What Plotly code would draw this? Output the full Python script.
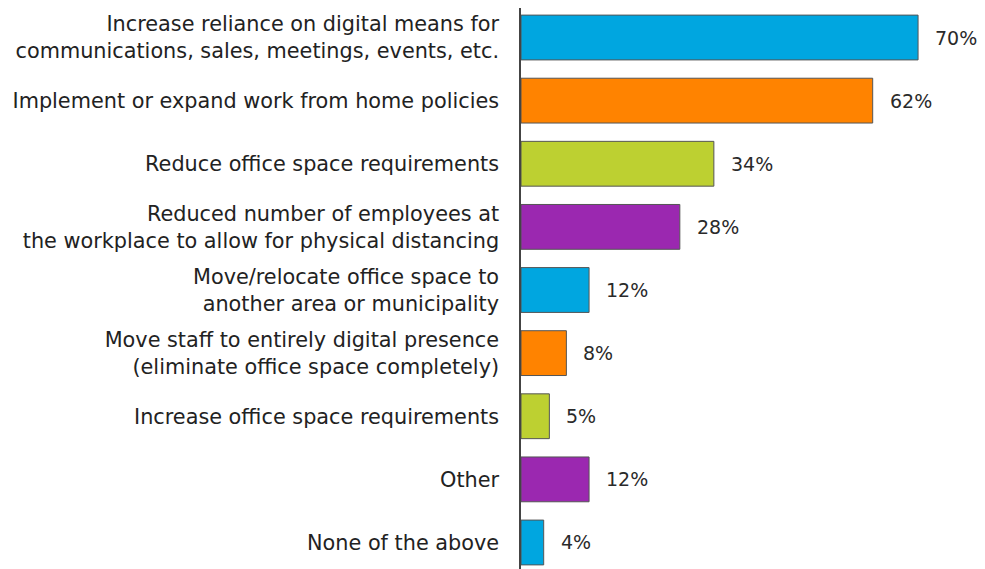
import plotly.graph_objects as go

categories = [
    "Increase reliance on digital means for<br>communications, sales, meetings, events, etc.",
    "Implement or expand work from home policies",
    "Reduce office space requirements",
    "Reduced number of employees at<br>the workplace to allow for physical distancing",
    "Move/relocate office space to<br>another area or municipality",
    "Move staff to entirely digital presence<br>(eliminate office space completely)",
    "Increase office space requirements",
    "Other",
    "None of the above",
]
values = [70, 62, 34, 28, 12, 8, 5, 12, 4]
value_labels = ["70%", "62%", "34%", "28%", "12%", "8%", "5%", "12%", "4%"]
palette = ["#00A6E0", "#FF8300", "#BDD031", "#9B28B0"]
bar_colors = [palette[i % 4] for i in range(len(categories))]

FONT = "DejaVu Sans"

fig = go.Figure()
fig.add_trace(go.Bar(
    x=values,
    y=categories,
    orientation="h",
    marker=dict(color=bar_colors, line=dict(color="#555555", width=1)),
    hoverinfo="skip",
))

for cat, v, lab in zip(categories, values, value_labels):
    fig.add_annotation(
        x=v, y=cat, text=lab, showarrow=False,
        xanchor="left", xshift=15,
        font=dict(family=FONT, size=19, color="#2a2a2a"),
    )

fig.update_layout(
    width=977, height=561,
    margin=dict(l=513, r=0, t=0, b=0),
    paper_bgcolor="white", plot_bgcolor="white",
    bargap=0.29,
    showlegend=False,
    font=dict(family=FONT, size=20.8, color="#222222"),
    xaxis=dict(range=[0, 81.8], visible=False, showgrid=False, zeroline=False),
    yaxis=dict(
        type="category",
        range=[8.42, -0.4675],
        showline=True, linecolor="#444444", linewidth=1.5,
        ticks="", showgrid=False, zeroline=False,
        ticklabelstandoff=16,
        tickfont=dict(family=FONT, size=20.8, color="#222222"),
    ),
)

fig.write_html("out.html")
